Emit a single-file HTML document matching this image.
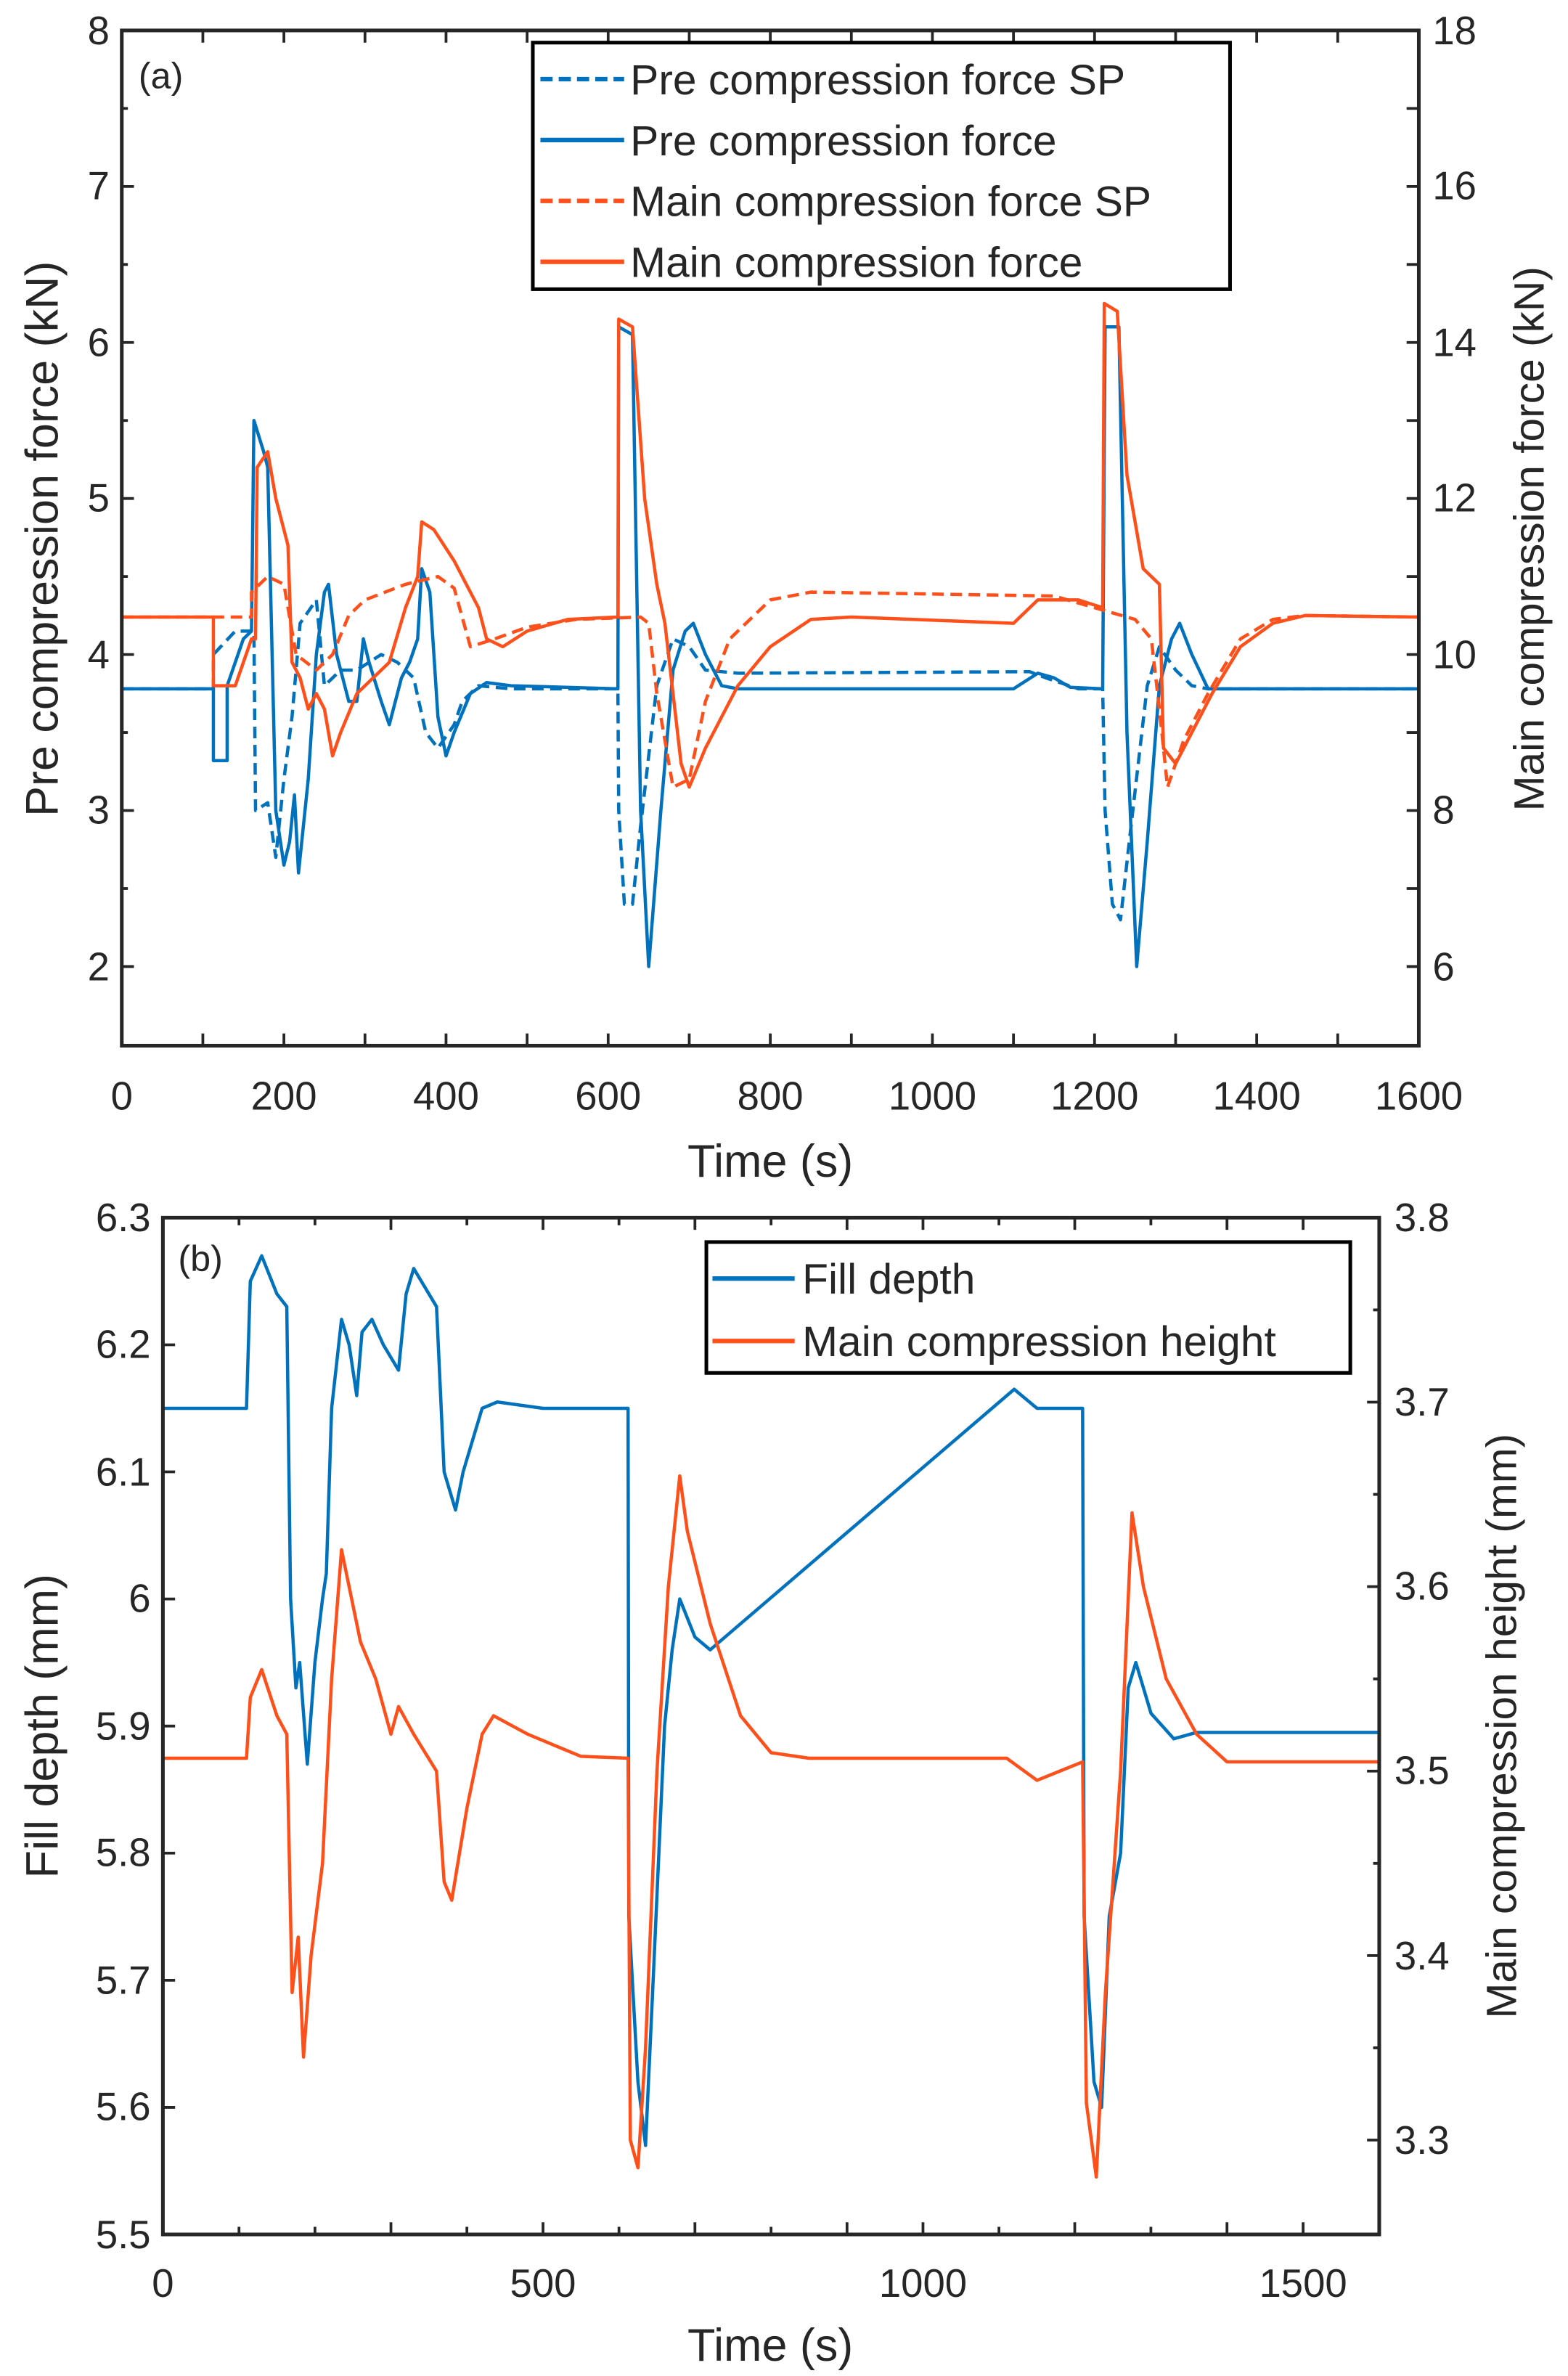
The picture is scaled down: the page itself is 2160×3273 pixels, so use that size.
<!DOCTYPE html>
<html><head><meta charset="utf-8"><style>
html,body{margin:0;padding:0;background:#fff}
svg{display:block}
text{font-family:"Liberation Sans",Arial,sans-serif;fill:#262626}
.d{fill:none;vector-effect:non-scaling-stroke;stroke-linejoin:round}
</style></head><body>
<svg width="2160" height="3273" viewBox="0 0 1030 1561" preserveAspectRatio="none" xmlns="http://www.w3.org/2000/svg">
<rect width="1030" height="1561" fill="#fff"/>
<!-- Panel A -->
<g transform="translate(80,840) scale(0.5325,-102.5)">
<polyline class="d" stroke="#0072BD" stroke-width="4.5" stroke-dasharray="16 9" points="0,3.78 113,3.78 113,4.0 140,4.15 163,4.15 165,3.0 180,3.05 190,2.7 200,3.2 210,3.6 220,4.2 240,4.35 250,3.8 270,3.9 290,3.9 320,4.0 340,3.95 360,3.85 375,3.5 390,3.4 410,3.55 420,3.7 440,3.8 480,3.78 612,3.78 613,3.0 620,2.4 630,2.4 640,2.9 660,3.8 680,4.1 700,4.05 720,3.9 760,3.88 1120,3.89 1140,3.85 1180,3.78 1210,3.78 1213,3.0 1222,2.4 1232,2.3 1245,2.9 1265,3.8 1280,4.05 1300,3.9 1320,3.8 1340,3.78 1600,3.78"/>
<polyline class="d" stroke="#0072BD" stroke-width="4.5" points="0,3.78 113,3.78 113,3.32 130,3.32 130,3.8 150,4.1 160,4.15 163,5.5 175,5.3 180,5.2 190,3.0 200,2.65 207,2.8 213,3.1 218,2.6 230,3.2 240,4.0 250,4.4 255,4.45 265,4.0 280,3.7 290,3.7 298,4.1 305,3.95 320,3.7 330,3.55 345,3.85 355,3.95 365,4.1 370,4.55 380,4.4 390,3.6 400,3.35 410,3.5 430,3.75 450,3.82 480,3.8 612,3.78 613,6.1 630,6.05 640,3.0 650,2.0 665,3.0 680,3.9 695,4.15 705,4.2 720,4.0 740,3.8 760,3.78 1100,3.78 1130,3.88 1150,3.85 1170,3.79 1210,3.78 1213,6.1 1230,6.1 1240,3.5 1252,2.0 1265,2.8 1280,3.8 1295,4.1 1305,4.2 1320,4.0 1340,3.78 1600,3.78"/>
</g>
<g transform="translate(80,942.5) scale(0.5325,-51.25)">
<polyline class="d" stroke="#FF4F1A" stroke-width="4.5" stroke-dasharray="16 9" points="0,10.48 160,10.48 160,10.8 180,11.0 200,10.9 215,10.0 240,9.8 260,10.0 280,10.5 300,10.7 350,10.9 390,11.0 410,10.85 430,10.1 460,10.2 500,10.35 560,10.45 640,10.48 650,10.4 660,9.5 680,8.3 700,8.4 720,9.4 750,10.2 800,10.7 850,10.8 1150,10.75 1200,10.6 1250,10.45 1270,10.2 1280,9.3 1290,8.3 1310,8.9 1340,9.5 1380,10.2 1420,10.45 1460,10.5 1600,10.48"/>
<polyline class="d" stroke="#FF4F1A" stroke-width="4.5" points="0,10.48 113,10.48 113,9.6 140,9.6 160,10.2 165,10.2 167,12.4 180,12.6 190,12.0 200,11.6 205,11.4 210,9.9 220,9.7 230,9.3 240,9.5 250,9.3 260,8.7 270,9.0 290,9.5 310,9.7 330,9.9 350,10.6 365,11.0 370,11.7 385,11.6 410,11.2 440,10.6 450,10.2 470,10.1 500,10.3 550,10.45 612,10.48 613,14.3 630,14.2 645,12.0 660,10.9 670,10.4 680,9.5 690,8.6 700,8.3 720,8.8 760,9.6 800,10.1 850,10.45 900,10.48 1100,10.4 1130,10.7 1180,10.7 1210,10.6 1212,14.5 1228,14.4 1240,12.3 1260,11.1 1280,10.9 1285,8.8 1300,8.6 1320,9.0 1345,9.5 1380,10.1 1420,10.4 1460,10.5 1600,10.48"/>
</g>
<rect x="80" y="20" width="852" height="667" fill="none" stroke="#262626" stroke-width="2.4"/>
<g stroke="#262626" stroke-width="1.8">
<path d="M133.25,687v-8M186.5,687v-8M239.75,687v-8M293,687v-8M346.25,687v-8M399.5,687v-8M452.75,687v-8M506,687v-8M559.25,687v-8M612.5,687v-8M665.75,687v-8M719,687v-8M772.25,687v-8M825.5,687v-8M878.75,687v-8M133.25,20v8M186.5,20v8M239.75,20v8M293,20v8M346.25,20v8M399.5,20v8M452.75,20v8M506,20v8M559.25,20v8M612.5,20v8M665.75,20v8M719,20v8M772.25,20v8M825.5,20v8M878.75,20v8"/>
<path d="M80,122.5h8M80,225h8M80,327.5h8M80,430h8M80,532.5h8M80,635h8M80,71.25h4M80,173.75h4M80,276.25h4M80,378.75h4M80,481.25h4M80,583.75h4M932,71.25h-8M932,122.5h-8M932,173.75h-8M932,225h-8M932,276.25h-8M932,327.5h-8M932,378.75h-8M932,430h-8M932,481.25h-8M932,532.5h-8M932,583.75h-8M932,635h-8"/>
</g>
<g font-size="26" text-anchor="end">
<text x="72" y="29">8</text><text x="72" y="131">7</text><text x="72" y="234">6</text><text x="72" y="336">5</text><text x="72" y="439">4</text><text x="72" y="541">3</text><text x="72" y="644">2</text>
</g>
<g font-size="26">
<text x="941" y="29">18</text><text x="941" y="131">16</text><text x="941" y="234">14</text><text x="941" y="336">12</text><text x="941" y="439">10</text><text x="941" y="541">8</text><text x="941" y="644">6</text>
</g>
<g font-size="26" text-anchor="middle">
<text x="80" y="729">0</text><text x="186.5" y="729">200</text><text x="293" y="729">400</text><text x="399.5" y="729">600</text><text x="506" y="729">800</text><text x="612.5" y="729">1000</text><text x="719" y="729">1200</text><text x="825.5" y="729">1400</text><text x="932" y="729">1600</text>
<text x="506" y="773" font-size="30">Time (s)</text>
<text transform="translate(38,354) rotate(-90)" font-size="30">Pre compression force (kN)</text>
<text transform="translate(1014,354) rotate(-90)" font-size="28">Main compression force (kN)</text>
</g>
<text x="91" y="58" font-size="24">(a)</text>
<rect x="350" y="28" width="458" height="162" fill="#fff" stroke="#000" stroke-width="2.4"/>
<g stroke-width="3">
<line x1="355" y1="52" x2="410" y2="52" stroke="#0072BD" stroke-dasharray="8 4"/>
<line x1="355" y1="92" x2="410" y2="92" stroke="#0072BD"/>
<line x1="355" y1="132" x2="410" y2="132" stroke="#FF4F1A" stroke-dasharray="8 4"/>
<line x1="355" y1="172" x2="410" y2="172" stroke="#FF4F1A"/>
</g>
<g font-size="28" fill="#000">
<text x="414" y="62">Pre compression force SP</text>
<text x="414" y="102">Pre compression force</text>
<text x="414" y="142">Main compression force SP</text>
<text x="414" y="182">Main compression force</text>
</g>
<!-- Panel B -->
<g transform="translate(107,6060.5) scale(0.4993,-835)">
<polyline class="d" stroke="#0072BD" stroke-width="4.5" points="0,6.15 110,6.15 115,6.25 130,6.27 150,6.24 163,6.23 168,6.0 175,5.93 180,5.95 190,5.87 200,5.95 210,6.0 215,6.02 222,6.15 235,6.22 245,6.2 255,6.16 262,6.21 275,6.22 290,6.2 310,6.18 320,6.24 330,6.26 350,6.24 360,6.23 370,6.1 385,6.07 395,6.1 420,6.15 440,6.155 500,6.15 612,6.15 613,5.75 625,5.62 635,5.57 645,5.7 660,5.9 670,5.96 680,6.0 700,5.97 720,5.96 1120,6.165 1150,6.15 1210,6.15 1212,5.75 1225,5.62 1235,5.6 1245,5.75 1260,5.8 1270,5.93 1280,5.95 1300,5.91 1330,5.89 1360,5.895 1600,5.895"/>
</g>
<g transform="translate(107,5405.6) scale(0.4993,-1212)">
<polyline class="d" stroke="#FF4F1A" stroke-width="4.5" points="0,3.507 110,3.507 115,3.54 130,3.555 150,3.53 163,3.52 170,3.38 178,3.41 185,3.345 195,3.4 210,3.45 222,3.55 235,3.62 245,3.6 260,3.57 280,3.55 300,3.52 310,3.535 330,3.52 360,3.5 370,3.44 380,3.43 400,3.48 420,3.52 435,3.53 480,3.52 550,3.508 612,3.507 615,3.3 625,3.285 635,3.35 650,3.5 665,3.6 680,3.66 690,3.63 720,3.58 760,3.53 800,3.51 850,3.507 1110,3.507 1150,3.495 1180,3.5 1210,3.505 1215,3.32 1228,3.28 1240,3.38 1260,3.5 1275,3.64 1290,3.6 1320,3.55 1360,3.52 1400,3.505 1600,3.505"/>
</g>
<rect x="107" y="800" width="799" height="668" fill="none" stroke="#262626" stroke-width="2.4"/>
<g stroke="#262626" stroke-width="1.8">
<path d="M157,1468v-5M206.9,1468v-5M256.8,1468v-8M306.7,1468v-5M356.7,1468v-8M406.6,1468v-5M456.5,1468v-8M506.5,1468v-5M556.4,1468v-8M606.3,1468v-8M656.2,1468v-5M706,1468v-8M756,1468v-5M806,1468v-8M856,1468v-8M157,800v5M206.9,800v5M256.8,800v8M306.7,800v5M356.7,800v8M406.6,800v5M456.5,800v8M506.5,800v5M556.4,800v8M606.3,800v8M656.2,800v5M706,800v8M756,800v5M806,800v8M856,800v8"/>
<path d="M107,883.5h8M107,967h8M107,1050.5h8M107,1134h8M107,1217.5h8M107,1301h8M107,1384.5h8M906,860.6h-4M906,921.2h-8M906,981.8h-4M906,1042.4h-8M906,1103h-4M906,1163.6h-8M906,1224.2h-4M906,1284.8h-8M906,1345.4h-4M906,1406h-8"/>
</g>
<g font-size="26" text-anchor="end">
<text x="99" y="809">6.3</text><text x="99" y="892">6.2</text><text x="99" y="976">6.1</text><text x="99" y="1059">6</text><text x="99" y="1143">5.9</text><text x="99" y="1226">5.8</text><text x="99" y="1310">5.7</text><text x="99" y="1393">5.6</text><text x="99" y="1477">5.5</text>
</g>
<g font-size="26">
<text x="916" y="809">3.8</text><text x="916" y="930">3.7</text><text x="916" y="1051">3.6</text><text x="916" y="1172">3.5</text><text x="916" y="1294">3.4</text><text x="916" y="1415">3.3</text>
</g>
<g font-size="26" text-anchor="middle">
<text x="107" y="1509">0</text><text x="356.7" y="1509">500</text><text x="606.3" y="1509">1000</text><text x="856" y="1509">1500</text>
<text x="506" y="1551" font-size="30">Time (s)</text>
<text transform="translate(38,1134) rotate(-90)" font-size="30">Fill depth (mm)</text>
<text transform="translate(996,1134) rotate(-90)" font-size="28">Main compression height (mm)</text>
</g>
<text x="117" y="835" font-size="24">(b)</text>
<rect x="464" y="816" width="423" height="86" fill="#fff" stroke="#000" stroke-width="2.4"/>
<line x1="468" y1="840" x2="522" y2="840" stroke="#0072BD" stroke-width="3"/>
<line x1="468" y1="881" x2="522" y2="881" stroke="#FF4F1A" stroke-width="3"/>
<g font-size="28" fill="#000">
<text x="527" y="850">Fill depth</text>
<text x="527" y="891">Main compression height</text>
</g>
</svg>
</body></html>
